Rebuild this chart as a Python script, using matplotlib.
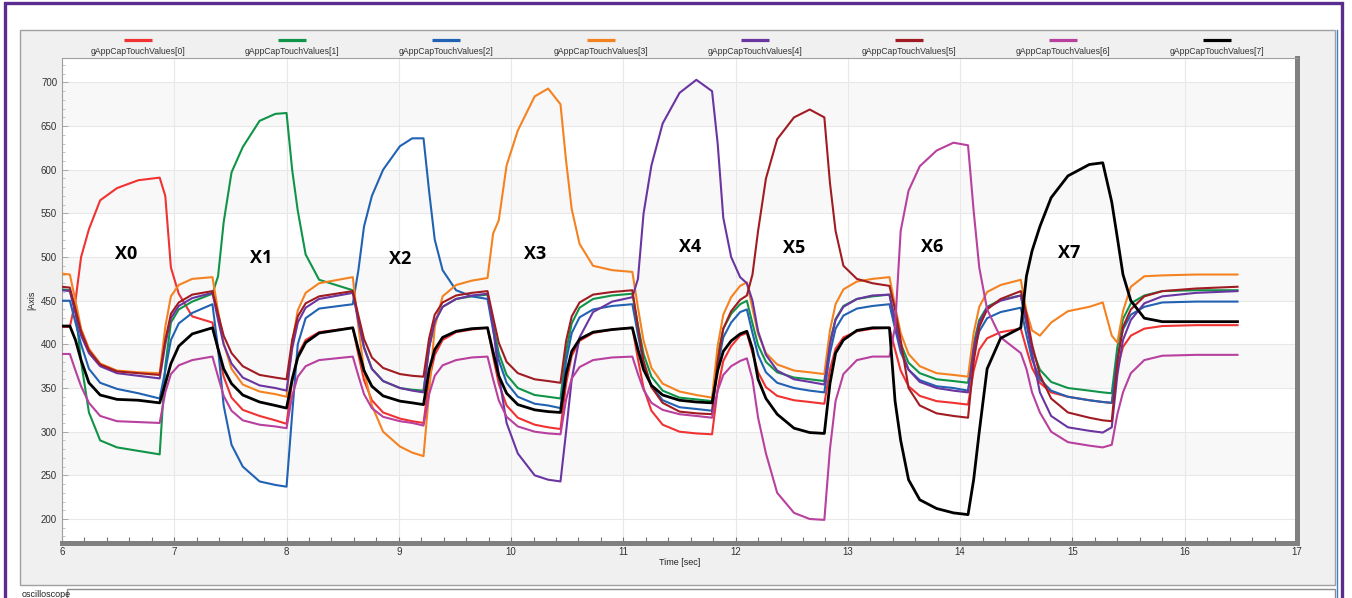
import matplotlib
matplotlib.use('Agg')
import matplotlib.pyplot as plt
from matplotlib.patches import Rectangle
from matplotlib.lines import Line2D
from matplotlib.ticker import MultipleLocator

# ---- data (time in seconds, shared sample times for all channels) ----
t = [6.00,
     6.07, 6.12, 6.17, 6.24, 6.34, 6.49, 6.68, 6.87, 6.92, 6.97, 7.04, 7.16,
     7.34, 7.39, 7.44, 7.51, 7.61, 7.76, 7.90, 8.00, 8.05, 8.10, 8.17, 8.29,
     8.59, 8.64, 8.69, 8.76, 8.86, 9.01, 9.12, 9.22, 9.27, 9.32, 9.39, 9.51, 9.65,
     9.79, 9.84, 9.89, 9.96, 10.06, 10.21, 10.33, 10.44, 10.49, 10.54, 10.61, 10.73, 10.90,
     11.08, 11.13, 11.18, 11.25, 11.35, 11.50, 11.65, 11.79, 11.84, 11.89, 11.96, 12.04,
     12.10, 12.15, 12.20, 12.27, 12.37, 12.52, 12.66, 12.79, 12.84, 12.89, 12.96, 13.08, 13.22,
     13.37, 13.42, 13.47, 13.54, 13.64, 13.79, 13.94, 14.07, 14.12, 14.17, 14.24, 14.36,
     14.54, 14.59, 14.64, 14.71, 14.81, 14.96, 15.15, 15.27, 15.35, 15.40, 15.45, 15.52, 15.64, 15.80,
     16.10, 16.47]

val0 = [420,
        420, 450, 500, 532, 565, 579, 588, 591, 570, 488, 458, 432,
        425, 393, 363, 339, 325, 318, 313, 309, 358, 388, 405, 414,
        419, 388, 359, 336, 322, 315, 312, 310, 359, 388, 405, 414, 417,
        419, 386, 355, 330, 316, 308, 305, 303, 355, 387, 404, 413, 417,
        419, 383, 350, 324, 308, 300, 298, 297, 349, 381, 398, 410,
        413, 390, 368, 351, 341, 336, 334, 332, 371, 395, 408, 415, 418,
        419, 394, 370, 352, 341, 335, 333, 331, 370, 394, 407, 414,
        418, 395, 373, 356, 345, 340, 336, 334, 333, 373, 397, 410, 418, 421, 422, 422]

val1 = [463,
        462, 440, 380, 322, 290, 282, 278, 274, 375, 425, 440, 449,
        458, 478, 540, 597, 626, 656, 664, 665, 600, 553, 503, 474,
        462, 428, 397, 372, 358, 350, 348, 347, 397, 426, 443, 452, 455,
        457, 423, 390, 365, 350, 342, 340, 338, 392, 424, 442, 452, 456,
        458, 422, 389, 363, 347, 339, 337, 335, 387, 418, 435, 446,
        450, 424, 399, 380, 368, 362, 360, 358, 403, 429, 444, 452, 455,
        457, 428, 401, 379, 367, 360, 358, 356, 401, 428, 443, 451,
        456, 424, 395, 371, 357, 350, 347, 345, 344, 397, 429, 447, 456, 461, 462, 462]

val2 = [450,
        450, 425, 400, 372, 356, 349, 344, 338, 370, 405, 424, 436,
        446, 395, 330, 285, 260, 243, 239, 237, 320, 400, 430, 441,
        446, 485, 535, 570, 600, 627, 636, 636, 575, 520, 485, 462, 455,
        452, 416, 382, 356, 340, 332, 330, 327, 381, 413, 431, 440, 444,
        446, 411, 378, 352, 336, 328, 326, 324, 376, 408, 425, 437,
        440, 413, 388, 368, 356, 350, 347, 345, 390, 418, 433, 441, 444,
        446, 418, 391, 371, 359, 352, 350, 347, 390, 415, 430, 437,
        442, 411, 383, 360, 347, 340, 336, 334, 333, 385, 417, 434, 443, 448, 449, 449]

val3 = [481,
        480, 450, 418, 395, 378, 370, 368, 367, 420, 455, 468, 475,
        477, 438, 401, 372, 354, 346, 343, 340, 402, 439, 459, 470,
        477, 420, 370, 330, 300, 283, 276, 272, 345, 420, 455, 468, 473,
        476, 527, 542, 605, 645, 684, 693, 675, 610, 555, 515, 490, 485,
        483, 442, 404, 373, 355, 346, 342, 339, 398, 434, 454, 467,
        471, 441, 412, 390, 377, 370, 368, 366, 416, 446, 463, 472, 475,
        477, 444, 413, 389, 375, 367, 365, 363, 413, 443, 460, 468,
        474, 438, 416, 410, 425, 438, 443, 448, 410, 402, 438, 466, 478, 479, 480, 480]

val4 = [462,
        461, 435, 410, 390, 375, 367, 364, 361, 400, 430, 444, 453,
        459, 428, 400, 378, 362, 353, 350, 347, 395, 425, 442, 452,
        459, 426, 396, 372, 358, 350, 347, 345, 396, 426, 443, 452, 456,
        458, 420, 365, 310, 275, 250, 245, 243, 300, 360, 408, 437, 449,
        454, 475, 550, 605, 653, 688, 703, 690, 630, 545, 500, 477,
        470, 450, 415, 388, 370, 360, 357, 354, 400, 428, 443, 452, 456,
        457, 425, 395, 371, 357, 350, 347, 345, 395, 425, 442, 450,
        456, 425, 390, 345, 318, 305, 301, 299, 305, 365, 405, 428, 447, 455, 459, 461]

val5 = [466,
        465, 440, 415, 393, 377, 369, 367, 365, 405, 435, 448, 457,
        461, 435, 410, 390, 375, 365, 362, 360, 405, 432, 447, 455,
        461, 433, 406, 385, 373, 366, 364, 363, 407, 434, 448, 456, 459,
        461, 431, 402, 380, 367, 360, 358, 356, 404, 432, 448, 457, 460,
        462, 420, 381, 351, 333, 323, 321, 320, 381, 418, 438, 451,
        456, 480, 530, 590, 635, 660, 669, 660, 585, 530, 490, 475, 470,
        467, 440, 405, 350, 330, 321, 318, 316, 380, 420, 440, 452,
        461, 435, 400, 365, 338, 322, 316, 313, 312, 380, 420, 440, 455, 461, 464, 466]

val6 = [389,
        389, 370, 352, 333, 318, 312, 311, 310, 345, 366, 376, 382,
        386, 363, 341, 324, 313, 308, 306, 304, 341, 363, 375, 382,
        386, 364, 343, 327, 317, 312, 310, 307, 343, 364, 376, 382, 385,
        386, 360, 336, 317, 306, 300, 298, 297, 337, 361, 374, 382, 385,
        386, 366, 348, 333, 325, 320, 318, 316, 347, 365, 375, 381,
        384, 360, 316, 275, 230, 207, 200, 199, 280, 335, 366, 382, 386,
        386, 420, 530, 576, 604, 622, 631, 628, 553, 488, 440, 408,
        390, 372, 345, 322, 300, 288, 284, 282, 285, 320, 345, 367, 382, 387, 388, 388]

val7 = [421,
        421, 405, 382, 356, 342, 337, 336, 333, 355, 378, 398, 412,
        419, 395, 372, 355, 342, 334, 330, 327, 360, 385, 402, 413,
        419, 394, 370, 352, 341, 335, 333, 331, 371, 394, 408, 415, 418,
        419, 391, 364, 344, 331, 325, 323, 322, 366, 392, 406, 414, 417,
        419, 394, 371, 353, 342, 336, 334, 333, 370, 392, 404, 412,
        415, 395, 360, 338, 320, 304, 299, 298, 355, 390, 405, 416, 419,
        419, 335, 290, 245, 222, 212, 207, 205, 245, 300, 372, 407,
        419, 478, 507, 535, 568, 593, 606, 608, 563, 522, 480, 450, 430, 426, 426, 426]

series = [val0, val1, val2, val3, val4, val5, val6, val7]
names = ['gAppCapTouchValues[%d]' % i for i in range(8)]
colors = ['#F03232', '#109447', '#2262B2', '#F58220', '#6A35A0', '#A01C22', '#B8409E', '#000000']

touch_names = ['X0', 'X1', 'X2', 'X3', 'X4', 'X5', 'X6', 'X7']
touch_t = [6.57, 7.77, 9.01, 10.21, 11.59, 12.52, 13.75, 14.97]
touch_v = [504, 499, 498, 504, 512, 510, 511, 505]

# ---- figure / window chrome ----
W, H = 1352, 598


def fx(x):
    return x / W


def fy(y):
    return 1 - y / H


fig = plt.figure(figsize=(W / 100, H / 100), dpi=100)
fig.patch.set_facecolor('white')
tf = fig.transFigure

fig.add_artist(Rectangle((fx(5), fy(640)), fx(1342) - fx(5), fy(3) - fy(640),
                         transform=tf, fc='white', ec='#5B2C8F', lw=2.4, zorder=-10))
fig.add_artist(Rectangle((fx(20), fy(585)), fx(1335) - fx(20), fy(30) - fy(585),
                         transform=tf, fc='#F0F0F0', ec='#A0A0A0', lw=1.0, zorder=-9))
fig.add_artist(Line2D([fx(1337), fx(1337)], [fy(30), 0], transform=tf,
                      color='#3F7FC4', lw=1.0, zorder=-8))
fig.add_artist(Rectangle((fx(67), fy(610)), fx(1335) - fx(67), fy(589) - fy(610),
                         transform=tf, fc='white', ec='#8C8C8C', lw=1.0, zorder=-8))
fig.text(fx(22), fy(590), 'oscilloscope', fontsize=6.5, va='top', ha='left',
         family='Liberation Sans', color='#222222')

# legend: line above text, spread over the top bar
for i in range(8):
    cx = 138 + 154.2 * i
    fig.add_artist(Line2D([fx(cx - 14), fx(cx + 14)], [fy(40), fy(40)], transform=tf,
                          color=colors[i], lw=2.3, solid_capstyle='butt'))
    fig.text(fx(cx), fy(51), names[i], fontsize=6.2, ha='center', va='center',
             family='Liberation Sans', color='#333333')

# ---- plot area ----
ax = fig.add_axes([fx(62), fy(543), fx(1297) - fx(62), fy(58) - fy(543)])
ax.set_zorder(5)
ax.set_facecolor('white')
for lo in [250, 350, 450, 550, 650]:
    ax.axhspan(lo, lo + 50, color='#F8F8F8', zorder=0, lw=0)

for i, s in enumerate(series):
    ax.plot(t, s, color=colors[i], lw=2.0 if i == 7 else 1.5, zorder=3 + i,
            solid_joinstyle='round')

for name, tx, ty in zip(touch_names, touch_t, touch_v):
    ax.text(tx, ty, name, fontsize=13, fontweight='bold', family='Open Sans',
            ha='center', va='center', color='black', zorder=20)

ax.set_xlim(6, 17)
ax.set_ylim(172.5, 728)
ax.xaxis.set_major_locator(MultipleLocator(1))
ax.xaxis.set_minor_locator(MultipleLocator(0.2))
ax.set_yticks(range(200, 701, 50))
ax.yaxis.set_minor_locator(MultipleLocator(10))
ax.grid(True, which='major', color='#E8E8E8', lw=0.8, zorder=1)
ax.set_axisbelow(True)

ax.tick_params(axis='x', which='both', direction='in', length=4.5, width=0.8,
               color='#707070', labelsize=7, labelcolor='#333333', pad=3)
ax.tick_params(axis='y', which='major', direction='in', length=4, width=0.7,
               color='#A8A8A8', labelsize=7, labelcolor='#333333', pad=3.5)
ax.tick_params(axis='y', which='minor', direction='in', length=2.5, width=0.6,
               color='#B8B8B8')
for lab in ax.get_xticklabels() + ax.get_yticklabels():
    lab.set_family('Liberation Sans')

ax.spines['left'].set_color('#A0A0A0')
ax.spines['left'].set_linewidth(0.8)
ax.spines['top'].set_color('#A0A0A0')
ax.spines['top'].set_linewidth(0.8)
ax.spines['bottom'].set_color('#808080')
ax.spines['bottom'].set_linewidth(3.6)
ax.spines['right'].set_color('#808080')
ax.spines['right'].set_linewidth(3.6)

ax.set_xlabel('Time [sec]', fontsize=6.5, family='Liberation Sans', color='#222222')
ax.xaxis.set_label_coords(0.5, -0.031)
ax.set_ylabel('|Axis', fontsize=6.5, family='Liberation Sans', color='#222222')
ax.yaxis.set_label_coords(-0.021, 0.5)

fig.savefig('out.png', dpi=100)
